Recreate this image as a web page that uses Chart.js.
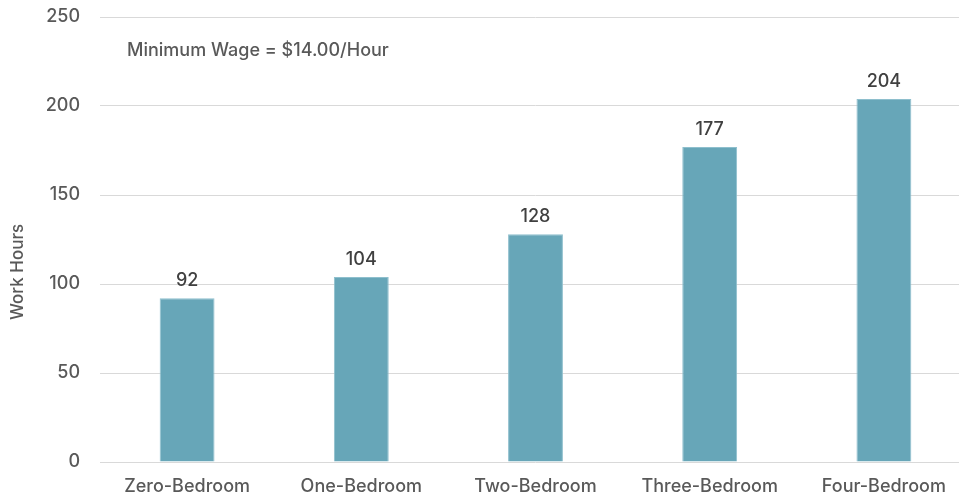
<!DOCTYPE html>
<html>
<head>
<meta charset="utf-8">
<script src="https://cdn.jsdelivr.net/npm/chart.js@4.4.1/dist/chart.umd.min.js"></script>
<style>
    html, body { margin: 0; padding: 0; background: #fff; }
    #frame { width: 959px; height: 499px; overflow: hidden; position: relative; }
    /* plot area runs slightly past the right edge, as in the source image */
    #wrap { width: 972px; height: 499px; position: relative; }
</style>
</head>
<body>
<div id="frame"><div id="wrap"><canvas id="hoursChart"></canvas></div></div>
<script>
// Chart data
const categories = ["Zero-Bedroom", "One-Bedroom", "Two-Bedroom", "Three-Bedroom", "Four-Bedroom"];
const workHours = [92, 104, 128, 177, 204];
const yTicks = [0, 50, 100, 150, 200, 250];
const noteText = "Minimum Wage = $14.00/Hour";
const yTitle = "Work Hours";

const FONT = "Inter, Lato, 'DejaVu Sans', sans-serif";
const AXIS_GREY = "#595959";

// Draws value labels above bars, the wage note and the rotated axis title
const extrasPlugin = {
    id: "extras",
    afterDatasetsDraw(chart) {
        const ctx = chart.ctx;
        const meta = chart.getDatasetMeta(0);
        ctx.save();
        ctx.font = "500 18px " + FONT;
        ctx.fillStyle = "#404040";
        ctx.textAlign = "center";
        ctx.textBaseline = "alphabetic";
        meta.data.forEach((bar, i) => {
            ctx.fillText(String(workHours[i]), bar.x, bar.y - 12);
        });

        // note near the top left of the plot
        ctx.font = "500 18px " + FONT;
        ctx.fillStyle = AXIS_GREY;
        ctx.textAlign = "left";
        ctx.textBaseline = "middle";
        ctx.fillText(noteText, chart.chartArea.left + 27, chart.scales.y.getPixelForValue(231));

        // y axis title
        ctx.translate(18, 272);
        ctx.rotate(-Math.PI / 2);
        ctx.textAlign = "center";
        ctx.font = "500 17px " + FONT;
        ctx.fillText(yTitle, 0, 0);
        ctx.restore();
    }
};

const ctx = document.getElementById("hoursChart").getContext("2d");
new Chart(ctx, {
    type: "bar",
    data: {
        labels: categories,
        datasets: [{
            data: workHours,
            backgroundColor: "#67A6B8",
            borderColor: "#8EBFCD",
            borderWidth: 1,
            categoryPercentage: 1,
            barPercentage: 0.315
        }]
    },
    options: {
        responsive: true,
        maintainAspectRatio: false,
        animation: false,
        layout: { padding: { top: 17, right: 1, left: 0, bottom: 0 } },
        plugins: {
            legend: { display: false },
            tooltip: { enabled: false }
        },
        scales: {
            x: {
                // transparent tick marks give the label gap without extra layout padding
                grid: { drawOnChartArea: false, tickLength: 14, tickColor: "transparent", color: "transparent" },
                border: { display: false },
                ticks: {
                    color: AXIS_GREY,
                    font: { family: FONT, size: 18, weight: 500 },
                    padding: 0,
                    maxRotation: 0,
                    autoSkip: false
                },
                afterFit(scale) { scale.height = 37; }
            },
            y: {
                min: 0,
                max: 250,
                afterBuildTicks(scale) {
                    scale.ticks = yTicks.map(v => ({ value: v }));
                },
                grid: { color: "#d9d9d9", lineWidth: 1, tickLength: 20, tickColor: "transparent" },
                border: { display: false },
                ticks: {
                    color: AXIS_GREY,
                    font: { family: FONT, size: 18, weight: 500 },
                    padding: 0
                },
                afterFit(scale) { scale.width = 100; }
            }
        }
    },
    plugins: [extrasPlugin]
});
</script>
</body>
</html>
